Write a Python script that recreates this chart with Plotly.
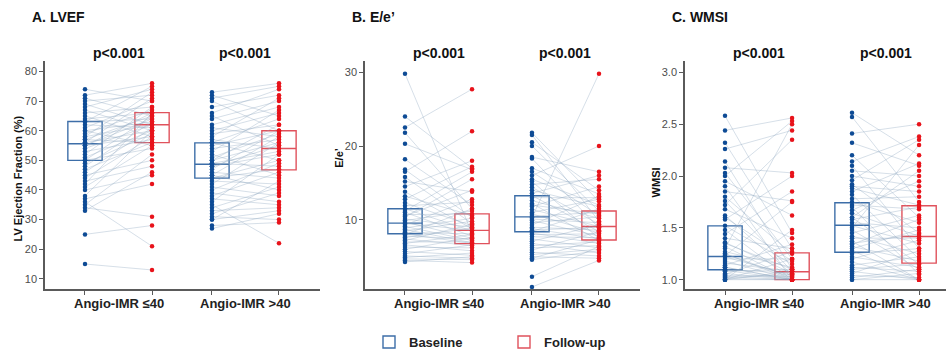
import plotly.graph_objects as go

# ---------------- data ----------------
groups = ["Angio-IMR ≤40", "Angio-IMR >40"]
series = ["Baseline", "Follow-up"]

# Panel A: LVEF (%)
lvef_g1_base = [74,72,71,70,69,68,67,66,65,64,63,63,62,61,60,60,59,58,58,57,57,56,56,55,55,55,54,53,52,51,50,50,49,48,47,46,45,44,43,42,41,40,38,37,36,35,34,33,25,15]
lvef_g1_fu   = [70,76,65,72,62,74,60,68,58,66,75,64,61,70,63,55,67,62,73,56,65,60,71,58,64,66,62,57,68,60,54,65,59,63,56,61,50,58,48,66,55,45,60,42,21,52,31,46,28,13]
lvef_g2_base = [73,72,71,70,68,66,65,64,62,61,60,59,58,57,56,56,55,54,53,52,51,50,50,49,49,48,48,47,46,45,45,44,44,43,42,41,40,39,38,37,36,35,34,33,32,31,30,30,28,27]
lvef_g2_fu   = [76,65,75,60,72,74,55,70,68,58,66,62,71,54,64,50,60,57,67,45,59,56,62,48,53,55,52,60,44,58,40,50,47,42,56,38,49,36,46,35,52,22,41,34,39,30,43,33,29,32]

# Panel B: E/e'
ee_g1_base = [29.8,24,22.5,21.8,20.3,18.2,16.8,16.5,15.8,15.2,14.5,13.8,13.2,12.8,12.3,11.9,11.5,11.2,11,10.7,10.4,10.1,9.9,9.7,9.5,9.3,9.1,8.9,8.7,8.5,8.3,8.1,8.0,7.8,7.6,7.4,7.2,7.0,6.8,6.6,6.3,6.0,5.7,5.4,5.1,4.9,4.7,4.5,4.3,10.5]
ee_g1_fu   = [8.2,17,27.7,11.5,16.8,12,10.3,22,9.5,13.8,18,8.8,10.6,17.2,9.2,12.4,8.5,16.5,7.8,10.8,15.5,9.0,11.2,7.5,8.6,12.8,7.2,10.2,6.9,9.8,8.1,6.8,11.5,7.4,8.9,6.5,9.4,7.0,8.0,5.8,6.2,7.6,5.2,6.6,4.8,5.5,4.6,4.2,5.0,14]
ee_g2_base = [21.8,21.5,20.5,20,18.5,18.3,17,16.5,16,15.5,15.2,14.8,14.4,14,13.6,13.3,13,12.6,12.2,11.8,11.4,11,10.8,10.5,10.3,10.1,9.9,9.6,9.3,9,8.8,8.6,8.4,8.2,8,7.7,7.4,7.1,6.8,6.5,6.2,5.9,5.6,5.3,5,4.8,4.6,2.3,0.9,12]
ee_g2_fu   = [12.5,9.8,14,11.2,16.5,8.9,13.5,10.6,20,12,7.5,15.5,9.4,11.8,16,8.4,13,10.2,7.2,14.5,9.1,12.8,8.2,11,29.8,9.6,7.8,10.4,13.2,8.6,7.4,9,11.5,6.8,8.1,7.6,6.2,9.3,5.5,7.0,6.5,8.4,5.1,6.0,4.8,7.3,5.8,6.4,4.5,10.8]

# Panel C: WMSI
wm_g1_base = [2.58,2.44,2.32,2.26,2.14,2.08,2.03,2.0,1.95,1.9,1.85,1.8,1.76,1.72,1.68,1.62,1.58,1.52,1.48,1.44,1.4,1.36,1.32,1.3,1.27,1.25,1.23,1.22,1.2,1.18,1.16,1.14,1.12,1.1,1.09,1.08,1.06,1.05,1.04,1.03,1.02,1.01,1.0,1.0,1.0,1.0,1.12,1.25,1.35,1.6]
wm_g1_fu   = [1.45,2.56,1.3,2.44,1.1,2.03,1.2,2.53,1.62,1.0,1.76,1.25,1.08,2.35,1.4,1.05,2.0,1.15,1.0,1.85,1.3,1.06,1.0,2.5,1.12,1.0,1.75,1.04,1.2,1.0,1.08,1.34,1.0,1.06,1.0,1.1,1.0,1.27,1.03,1.0,1.05,1.0,1.2,1.0,1.48,1.08,1.0,1.02,1.1,1.18]
wm_g2_base = [2.61,2.57,2.41,2.32,2.2,2.14,2.1,2.05,2.0,1.96,1.92,1.88,1.85,1.82,1.78,1.75,1.72,1.7,1.67,1.64,1.6,1.58,1.55,1.52,1.5,1.48,1.45,1.42,1.4,1.37,1.34,1.32,1.3,1.28,1.25,1.22,1.2,1.17,1.14,1.12,1.1,1.08,1.06,1.04,1.02,1.0,1.0,1.9,1.6,1.35]
wm_g2_fu   = [2.2,1.75,2.5,2.1,1.6,2.38,1.3,2.0,1.9,2.35,1.45,1.72,2.12,1.2,1.8,1.55,1.68,1.05,1.95,1.42,1.15,1.7,1.5,1.35,2.3,1.1,1.62,1.25,1.4,1.0,1.58,1.18,1.48,1.0,1.3,1.12,1.38,1.0,1.22,1.08,1.15,1.0,1.28,1.02,1.1,1.0,1.06,1.85,2.05,1.44]

# Box summaries (q1, median, q3) in order: G1 base, G1 FU, G2 base, G2 FU
lvef_q1  = [50, 56, 44, 46.8]
lvef_med = [55.6, 62, 48.7, 54]
lvef_q3  = [63.1, 66.1, 55.9, 60]
ee_q1  = [8.12, 6.78, 8.39, 7.27]
ee_med = [9.55, 8.57, 10.4, 9.1]
ee_q3  = [11.5, 10.8, 13.27, 11.2]
wm_q1  = [1.096, 1.0, 1.264, 1.16]
wm_med = [1.223, 1.076, 1.525, 1.417]
wm_q3  = [1.519, 1.258, 1.742, 1.713]

panel_titles = ["A. LVEF", "B. E/e\u2019", "C. WMSI"]
y_titles = ["LV Ejection Fraction (%)", "E/e\u2019", "WMSI"]
p_labels = [["p<0.001", "p<0.001"], ["p<0.001", "p<0.001"], ["p<0.001", "p<0.001"]]
y_ticks = [[10, 20, 30, 40, 50, 60, 70, 80], [10, 20, 30], [1.0, 1.5, 2.0, 2.5, 3.0]]

panels = [
    dict(pairs=[(lvef_g1_base, lvef_g1_fu), (lvef_g2_base, lvef_g2_fu)], q1=lvef_q1, med=lvef_med, q3=lvef_q3),
    dict(pairs=[(ee_g1_base, ee_g1_fu), (ee_g2_base, ee_g2_fu)], q1=ee_q1, med=ee_med, q3=ee_q3),
    dict(pairs=[(wm_g1_base, wm_g1_fu), (wm_g2_base, wm_g2_fu)], q1=wm_q1, med=wm_med, q3=wm_q3),
]

# ---------------- layout/style ----------------
W, H = 946, 357
FONT = "Arial, Liberation Sans, sans-serif"
pt_col = ["#0e4b95", "#e8131b"]
box_col = ["#3d6ea8", "#e0525c"]
line_col = "rgba(140,165,190,0.45)"
off = 0.264
x_dom_px = [(45, 320), (365, 640), (685, 946)]
x_rng = [[0.421, 2.587], [0.421, 2.587], [0.421, 2.476]]
y_rng = [[6.6, 83.5], [0.64, 31.5], [0.911, 3.108]]
y_dom = [(H - 293) / H, (H - 62) / H]
title_x_px = [30, 350, 670]
ytitle_x_px = [18, 339, 656]
ytitle_y_px = [181, 160, 185]

fig = go.Figure()
annotations = []

for i, pan in enumerate(panels):
    xa = "x" if i == 0 else f"x{i+1}"
    ya = "y" if i == 0 else f"y{i+1}"
    # paired lines
    for g, (base, fu) in enumerate(pan["pairs"]):
        xb, xf = g + 1 - off, g + 1 + off
        xs, ys = [], []
        for b, f in zip(base, fu):
            xs += [xb, xf, None]
            ys += [b, f, None]
        fig.add_trace(go.Scatter(x=xs, y=ys, mode="lines", line=dict(color=line_col, width=0.8),
                                 hoverinfo="skip", showlegend=False, xaxis=xa, yaxis=ya))
    # boxes
    for g in range(2):
        for s in range(2):
            k = g * 2 + s
            pos = g + 1 + (off if s else -off)
            fig.add_trace(go.Box(x=[pos], q1=[pan["q1"][k]], median=[pan["med"][k]], q3=[pan["q3"][k]],
                                 lowerfence=[pan["q1"][k]], upperfence=[pan["q3"][k]],
                                 width=0.27, line=dict(color=box_col[s], width=1.4),
                                 fillcolor="rgba(255,255,255,0)", boxpoints=False,
                                 name=series[s], legendgroup=series[s],
                                 showlegend=(i == 0 and g == 0), xaxis=xa, yaxis=ya))
    # points
    for g, (base, fu) in enumerate(pan["pairs"]):
        for s, vals in enumerate((base, fu)):
            pos = g + 1 + (off if s else -off)
            fig.add_trace(go.Scatter(x=[pos] * len(vals), y=vals, mode="markers",
                                     marker=dict(color=pt_col[s], size=4.5), showlegend=False,
                                     xaxis=xa, yaxis=ya))
    # axes
    dom = [x_dom_px[i][0] / W, x_dom_px[i][1] / W]
    axis_common = dict(showline=True, linecolor="#5a5a5a", linewidth=1.5, showgrid=False, zeroline=False,
                       ticks="outside", ticklen=4, tickcolor="#5a5a5a", tickwidth=1,
                       tickfont=dict(family=FONT, size=11, color="#4d4d4d"))
    fig.layout[("xaxis" if i == 0 else f"xaxis{i+1}")] = dict(
        domain=dom, range=x_rng[i], anchor=ya, tickvals=[1 - off, 1 + off, 2 - off, 2 + off],
        ticktext=["", "", "", ""], fixedrange=True, **axis_common)
    fig.layout[("yaxis" if i == 0 else f"yaxis{i+1}")] = dict(
        domain=y_dom, range=y_rng[i], anchor=xa, tickvals=y_ticks[i],
        tickformat=".1f" if i == 2 else "d", **axis_common)
    # annotations
    annotations.append(dict(text=f"<b>{panel_titles[i]}</b>", x=title_x_px[i] / W, y=(H - 17) / H,
                            xref="paper", yref="paper", xanchor="left", yanchor="middle", showarrow=False,
                            font=dict(family=FONT, size=14, color="#111")))
    annotations.append(dict(text=f"<b>{y_titles[i]}</b>", x=ytitle_x_px[i] / W, y=(H - ytitle_y_px[i]) / H,
                            xref="paper", yref="paper", textangle=-90, xanchor="center", yanchor="middle",
                            showarrow=False, font=dict(family=FONT, size=11, color="#111")))
    for g in range(2):
        annotations.append(dict(text=f"<b>{p_labels[i][g]}</b>", x=g + 1, y=(H - 54) / H,
                                xref=xa, yref="paper", xanchor="center", yanchor="middle", showarrow=False,
                                font=dict(family=FONT, size=14, color="#111")))
        annotations.append(dict(text=f"<b>{groups[g]}</b>", x=g + 1, y=(H - 308) / H,
                                xref=xa, yref="paper", xanchor="center", yanchor="middle", showarrow=False,
                                font=dict(family=FONT, size=13, color="#222")))

fig.update_layout(
    width=W, height=H, margin=dict(l=0, r=0, t=0, b=0),
    paper_bgcolor="white", plot_bgcolor="white", boxmode="overlay",
    annotations=annotations,
    legend=dict(orientation="h", x=369 / W, y=(H - 347) / H, xanchor="left", yanchor="middle",
                entrywidth=90, font=dict(family=FONT, size=13, color="#222"), bgcolor="rgba(0,0,0,0)"),
    font=dict(family=FONT),
)
fig.layout.legend.font.weight = "bold"

fig.write_html("out.html", config={"displayModeBar": False},
               post_script="document.body.style.margin='0';document.body.style.padding='0';")
